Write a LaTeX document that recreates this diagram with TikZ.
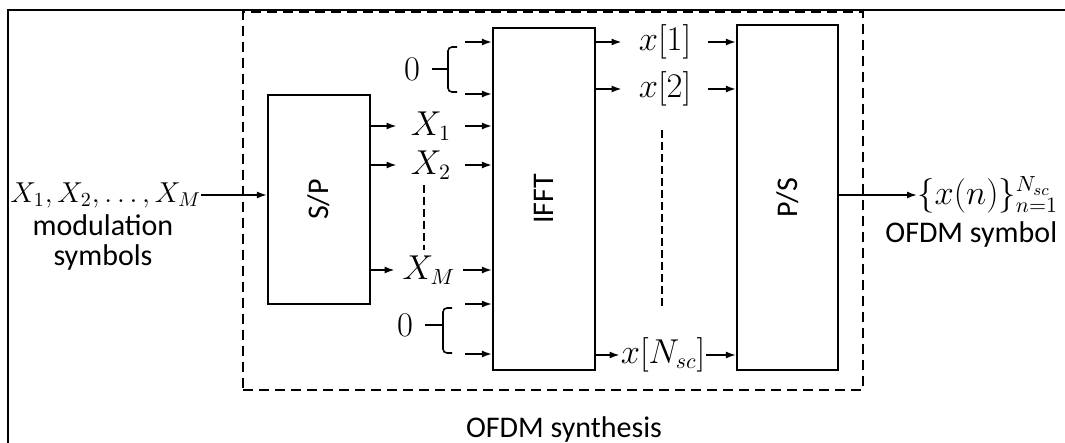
\documentclass[tikz,border=0pt]{standalone}
\usepackage{fontspec}
\setsansfont{Carlito}
\usepackage{graphicx}
\usetikzlibrary{arrows.meta,positioning,calc}

\begin{document}
\begin{tikzpicture}[x=0.5pt,y=-0.5pt,
    block/.style={draw, line width=1.1pt, inner sep=0pt, font=\sffamily\fontsize{15}{17}\selectfont},
    sym/.style={inner sep=0pt, font=\fontsize{16}{18}\selectfont},
    txt/.style={inner sep=0pt, align=center, font=\sffamily\fontsize{15}{15}\selectfont},
    arr/.style={-{Latex[length=5pt,width=3.5pt]}, line width=0.8pt},
    vdots/.style={line width=1.1pt, dash pattern=on 4pt off 2pt},
    brack/.style={line width=0.8pt, rounded corners=2pt}
]
    \useasboundingbox (0,0) rectangle (1065,443);
    \draw[line width=0.8pt] (8,443) -- (8,10) -- (1065,10);

    % synthesis frame
    \node[draw, line width=1.1pt, dash pattern=on 5pt off 3pt, minimum width=310pt, minimum height=189pt] (synth) at (553,201) {};
    \node[txt] (synthlbl) at (564,429) {OFDM synthesis};

    % blocks
    \node[block, minimum width=51pt, minimum height=104.5pt] (sp) at (319,199.5) {\rotatebox{90}{S/P}};
    \node[block, minimum width=51pt, minimum height=171pt] (ifft) at (544,199) {\rotatebox{90}{IFFT}};
    \node[block, minimum width=50.5pt, minimum height=172.5pt] (ps) at (787.5,197.5) {\rotatebox{90}{P/S}};

    % input
    \node[sym, anchor=west, font=\fontsize{14.5}{17}\selectfont] (in) at (10,195) {$X_1, X_2, \ldots, X_M$};
    \node[txt] (inlbl) at (103,243) {modulation\\symbols};
    \draw[arr] (in.east) -- (sp.west |- in);

    % S/P outputs
    \node[sym, minimum width=34pt] (x1) at (431,126) {$X_1$};
    \node[sym, minimum width=34pt] (x2) at (431,165) {$X_2$};
    \node[sym, minimum width=34pt] (xm) at (429,270) {$X_M$};
    \foreach \n in {x1,x2,xm} {
        \draw[arr] (sp.east |- \n) -- (\n.west);
        \draw[arr] (\n.east) -- (ifft.west |- \n);
    }
    \draw[vdots] (424,185) -- (424,250);

    % zero padding
    \coordinate (z1) at (465,42);
    \coordinate (z2) at (465,94);
    \coordinate (z3) at (465,304);
    \coordinate (z4) at (465,354);
    \foreach \z in {z1,z2,z3,z4}
        \draw[arr] (\z) -- (ifft.west |- \z);
    \node[sym] (zt) at (412,69) {$0$};
    \draw[brack] (457,47) -- (448,47) -- (448,92) -- (457,92);
    \draw[line width=0.8pt] (432,69) -- (448,69);
    \node[sym] (zb) at (405,325) {$0$};
    \draw[brack] (452,308) -- (443,308) -- (443,353) -- (452,353);
    \draw[line width=0.8pt] (425,325) -- (443,325);

    % IFFT outputs
    \node[sym, minimum width=43pt] (y1) at (665,42) {$x[1]$};
    \node[sym, minimum width=43pt] (y2) at (665,89) {$x[2]$};
    \node[sym, minimum width=43pt] (yn) at (663,355) {$x[N_{sc}]$};
    \foreach \n in {y1,y2,yn} {
        \draw[arr] (ifft.east |- \n) -- (\n.west);
        \draw[arr] (\n.east) -- (ps.west |- \n);
    }
    \draw[vdots] (662,130) -- (662,308);

    % output
    \node[sym, anchor=west] (out) at (917,195) {$\{x(n)\}_{n=1}^{N_{sc}}$};
    \node[txt, anchor=west] (outlbl) at (885,235) {OFDM symbol};
    \draw[arr] (ps.east |- out) -- (out.west);
\end{tikzpicture}
\end{document}
